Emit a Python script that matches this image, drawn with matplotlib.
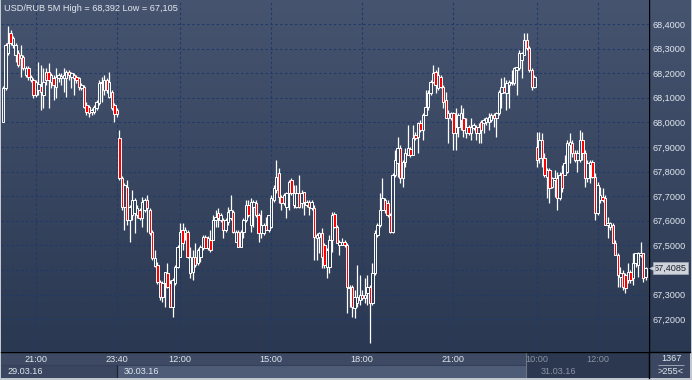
import matplotlib
matplotlib.use("Agg")
import matplotlib.pyplot as plt
import numpy as np
from matplotlib.colors import LinearSegmentedColormap
from matplotlib.transforms import blended_transform_factory
from matplotlib.patches import Rectangle
from matplotlib.ticker import FuncFormatter

plt.rcParams['font.family'] = ['Liberation Sans', 'DejaVu Sans']

# ---------------- data (USD/RUB, 5-minute bars) ----------------
day1_open = [68.002, 68.140, 68.282, 68.363, 68.315, 68.274, 68.282, 68.262, 68.266, 68.193,
             68.221, 68.172, 68.172, 68.111, 68.132, 68.148, 68.111, 68.205, 68.205, 68.164,
             68.181, 68.144, 68.181, 68.181, 68.181, 68.181, 68.205, 68.185, 68.193, 68.185,
             68.181, 68.140, 68.144, 68.071, 68.063, 68.042, 68.042, 68.059, 68.079, 68.160,
             68.132, 68.172, 68.103, 68.124, 68.071, 68.050]
day1_high = [68.148, 68.323, 68.392, 68.376, 68.351, 68.323, 68.294, 68.315, 68.274, 68.229,
             68.229, 68.193, 68.181, 68.172, 68.246, 68.233, 68.221, 68.221, 68.242, 68.201,
             68.193, 68.221, 68.201, 68.201, 68.221, 68.213, 68.213, 68.205, 68.201, 68.193,
             68.185, 68.160, 68.152, 68.083, 68.071, 68.059, 68.071, 68.091, 68.172, 68.185,
             68.193, 68.181, 68.205, 68.132, 68.079, 68.059]
day1_low = [68.002, 68.132, 68.274, 68.315, 68.302, 68.246, 68.225, 68.185, 68.213, 68.185,
            68.172, 68.164, 68.099, 68.103, 68.111, 68.050, 68.059, 68.152, 68.059, 68.140,
            68.091, 68.099, 68.164, 68.152, 68.124, 68.103, 68.172, 68.140, 68.111, 68.160,
            68.132, 68.132, 68.059, 68.030, 68.022, 68.030, 68.034, 68.050, 68.071, 68.083,
            68.111, 68.120, 68.099, 68.050, 68.002, 68.022]
day1_close = [68.140, 68.315, 68.323, 68.323, 68.343, 68.315, 68.233, 68.274, 68.221, 68.221,
              68.185, 68.185, 68.111, 68.164, 68.156, 68.124, 68.164, 68.172, 68.172, 68.193,
              68.152, 68.185, 68.193, 68.189, 68.193, 68.205, 68.193, 68.201, 68.181, 68.172,
              68.144, 68.152, 68.063, 68.042, 68.038, 68.050, 68.063, 68.083, 68.160, 68.164,
              68.172, 68.132, 68.164, 68.059, 68.034, 68.034]

day2_open = [67.937, 67.774, 67.656, 67.737, 67.603, 67.624, 67.632, 67.624, 67.644, 67.611,
             67.644, 67.685, 67.644, 67.555, 67.416, 67.420, 67.351, 67.290, 67.347, 67.388,
             67.347, 67.250, 67.347, 67.412, 67.453, 67.563, 67.550, 67.555, 67.388, 67.392,
             67.453, 67.428, 67.453, 67.489, 67.534, 67.489, 67.522, 67.522, 67.603, 67.632,
             67.603, 67.603, 67.563, 67.595, 67.611, 67.636, 67.514, 67.555, 67.494, 67.555,
             67.603, 67.664, 67.583, 67.656, 67.672, 67.624, 67.550, 67.550, 67.583, 67.563,
             67.575, 67.685, 67.725, 67.794, 67.697, 67.672, 67.656, 67.713, 67.766, 67.664,
             67.656, 67.713, 67.672, 67.717, 67.664, 67.676, 67.652, 67.652, 67.530, 67.534,
             67.550, 67.502, 67.412, 67.412, 67.522, 67.628, 67.575, 67.502, 67.502, 67.514,
             67.502, 67.327, 67.331, 67.246, 67.266, 67.278, 67.298, 67.286, 67.307, 67.331,
             67.266, 67.388, 67.542, 67.583, 67.644, 67.685, 67.672, 67.624, 67.555, 67.786,
             67.835, 67.896, 67.774, 67.839, 67.867, 67.892, 67.867, 67.949, 67.941, 67.998,
             67.969, 68.030, 68.063, 68.120, 68.164, 68.205, 68.140, 68.185, 68.144, 68.091,
             68.018, 68.018, 68.038, 67.957, 67.981, 68.010, 68.018, 67.957, 67.981, 67.957,
             67.977, 67.981, 67.957, 68.002, 67.998, 68.002, 68.002, 68.010, 68.030, 68.018,
             68.038, 68.120, 68.144, 68.120, 68.152, 68.160, 68.160, 68.213, 68.221, 68.254,
             68.274, 68.335, 68.302, 68.213, 68.144]
day2_high = [67.969, 67.782, 67.754, 67.766, 67.664, 67.725, 67.693, 67.664, 67.652, 67.697,
             67.693, 67.705, 67.652, 67.563, 67.481, 67.433, 67.359, 67.355, 67.392, 67.428,
             67.359, 67.367, 67.420, 67.502, 67.591, 67.591, 67.575, 67.563, 67.494, 67.481,
             67.510, 67.489, 67.502, 67.542, 67.542, 67.538, 67.563, 67.624, 67.644, 67.652,
             67.632, 67.611, 67.611, 67.656, 67.705, 67.644, 67.563, 67.563, 67.563, 67.611,
             67.685, 67.685, 67.693, 67.685, 67.685, 67.632, 67.644, 67.591, 67.615, 67.624,
             67.705, 67.746, 67.847, 67.815, 67.705, 67.713, 67.717, 67.766, 67.774, 67.746,
             67.746, 67.786, 67.725, 67.717, 67.685, 67.685, 67.685, 67.664, 67.550, 67.555,
             67.571, 67.510, 67.489, 67.542, 67.636, 67.636, 67.583, 67.522, 67.530, 67.522,
             67.510, 67.339, 67.339, 67.319, 67.420, 67.380, 67.319, 67.367, 67.380, 67.339,
             67.428, 67.563, 67.591, 67.713, 67.774, 67.693, 67.685, 67.632, 67.794, 67.888,
             67.941, 67.908, 67.847, 67.896, 67.989, 67.900, 67.989, 67.961, 68.002, 68.010,
             68.038, 68.132, 68.132, 68.172, 68.233, 68.213, 68.225, 68.193, 68.152, 68.124,
             68.050, 68.042, 68.042, 68.059, 68.038, 68.071, 68.059, 68.018, 67.989, 68.018,
             67.998, 67.989, 67.998, 68.010, 68.018, 68.022, 68.038, 68.038, 68.038, 68.042,
             68.132, 68.181, 68.185, 68.172, 68.172, 68.213, 68.225, 68.225, 68.294, 68.286,
             68.363, 68.363, 68.311, 68.221, 68.193]
day2_low = [67.766, 67.644, 67.563, 67.583, 67.514, 67.603, 67.550, 67.611, 67.603, 67.575,
            67.636, 67.555, 67.542, 67.441, 67.412, 67.343, 67.278, 67.270, 67.250, 67.327,
            67.250, 67.209, 67.339, 67.408, 67.453, 67.481, 67.522, 67.449, 67.367, 67.359,
            67.412, 67.420, 67.433, 67.481, 67.489, 67.481, 67.473, 67.522, 67.575, 67.575,
            67.595, 67.530, 67.555, 67.583, 67.603, 67.550, 67.514, 67.494, 67.494, 67.530,
            67.595, 67.615, 67.555, 67.575, 67.615, 67.514, 67.530, 67.542, 67.563, 67.555,
            67.571, 67.676, 67.713, 67.672, 67.644, 67.664, 67.611, 67.644, 67.705, 67.652,
            67.652, 67.652, 67.652, 67.624, 67.656, 67.624, 67.644, 67.441, 67.441, 67.469,
            67.408, 67.408, 67.367, 67.388, 67.473, 67.571, 67.510, 67.461, 67.502, 67.494,
            67.225, 67.250, 67.209, 67.205, 67.250, 67.258, 67.278, 67.266, 67.258, 67.105,
            67.258, 67.380, 67.534, 67.575, 67.644, 67.632, 67.615, 67.550, 67.550, 67.778,
            67.778, 67.754, 67.737, 67.819, 67.867, 67.859, 67.867, 67.928, 67.876, 67.961,
            67.928, 68.030, 68.050, 68.111, 68.160, 68.120, 68.132, 68.140, 68.059, 68.018,
            67.916, 68.010, 67.888, 67.888, 67.941, 67.969, 67.941, 67.937, 67.949, 67.928,
            67.969, 67.928, 67.916, 67.916, 67.957, 67.989, 67.969, 68.002, 67.981, 67.941,
            68.030, 68.059, 68.120, 68.050, 68.059, 68.152, 68.152, 68.111, 68.213, 68.181,
            68.274, 68.294, 68.205, 68.132, 68.140]
day2_close = [67.774, 67.656, 67.746, 67.603, 67.656, 67.685, 67.685, 67.652, 67.611, 67.676,
              67.685, 67.652, 67.550, 67.449, 67.449, 67.351, 67.290, 67.347, 67.392, 67.331,
              67.250, 67.359, 67.412, 67.494, 67.555, 67.510, 67.563, 67.453, 67.453, 67.453,
              67.420, 67.481, 67.494, 67.534, 67.489, 67.530, 67.481, 67.603, 67.615, 67.611,
              67.624, 67.563, 67.603, 67.636, 67.644, 67.555, 67.555, 67.494, 67.555, 67.603,
              67.664, 67.624, 67.676, 67.676, 67.624, 67.550, 67.583, 67.583, 67.563, 67.624,
              67.693, 67.733, 67.778, 67.697, 67.672, 67.705, 67.713, 67.758, 67.713, 67.713,
              67.713, 67.656, 67.713, 67.676, 67.676, 67.656, 67.676, 67.534, 67.542, 67.550,
              67.453, 67.420, 67.481, 67.522, 67.624, 67.575, 67.510, 67.514, 67.514, 67.502,
              67.331, 67.331, 67.250, 67.290, 67.290, 67.298, 67.286, 67.298, 67.331, 67.266,
              67.388, 67.550, 67.583, 67.644, 67.693, 67.644, 67.624, 67.555, 67.786, 67.847,
              67.896, 67.774, 67.839, 67.876, 67.896, 67.867, 67.937, 67.937, 67.998, 67.969,
              68.030, 68.063, 68.120, 68.164, 68.201, 68.152, 68.193, 68.144, 68.083, 68.018,
              68.038, 68.038, 67.957, 67.981, 68.030, 68.038, 67.969, 67.981, 67.957, 67.981,
              67.989, 67.957, 67.981, 67.969, 68.010, 68.018, 68.022, 68.030, 68.018, 68.038,
              68.124, 68.144, 68.124, 68.160, 68.164, 68.164, 68.221, 68.225, 68.282, 68.282,
              68.335, 68.302, 68.213, 68.144, 68.185]

day3_open = [67.900, 67.855, 67.928, 67.855, 67.778, 67.807, 67.737, 67.766, 67.774, 67.693,
             67.794, 67.786, 67.798, 67.908, 67.916, 67.876, 67.847, 67.847, 67.928, 67.876,
             67.774, 67.827, 67.839, 67.778, 67.632, 67.685, 67.697, 67.693, 67.583, 67.575,
             67.583, 67.510, 67.461, 67.372, 67.388, 67.380, 67.359, 67.392, 67.367, 67.428,
             67.420, 67.461, 67.469, 67.372]
day3_high = [67.961, 67.961, 67.957, 67.876, 67.815, 67.815, 67.778, 67.807, 67.798, 67.798,
             67.827, 67.867, 67.928, 67.957, 67.928, 67.888, 67.888, 67.969, 67.961, 67.888,
             67.847, 67.847, 67.847, 67.794, 67.758, 67.737, 67.733, 67.705, 67.615, 67.595,
             67.591, 67.522, 67.469, 67.412, 67.400, 67.388, 67.428, 67.400, 67.469, 67.469,
             67.473, 67.514, 67.469, 67.412]
day3_low = [67.819, 67.835, 67.819, 67.778, 67.693, 67.672, 67.733, 67.697, 67.644, 67.685,
            67.717, 67.786, 67.794, 67.835, 67.859, 67.839, 67.798, 67.839, 67.847, 67.737,
            67.758, 67.754, 67.774, 67.603, 67.624, 67.672, 67.676, 67.583, 67.530, 67.563,
            67.510, 67.461, 67.331, 67.331, 67.319, 67.307, 67.347, 67.347, 67.339, 67.412,
            67.372, 67.453, 67.351, 67.359]
day3_close = [67.847, 67.928, 67.855, 67.786, 67.807, 67.733, 67.774, 67.774, 67.693, 67.786,
              67.733, 67.835, 67.916, 67.920, 67.876, 67.847, 67.876, 67.928, 67.876, 67.774,
              67.835, 67.839, 67.778, 67.632, 67.746, 67.705, 67.685, 67.583, 67.591, 67.591,
              67.510, 67.461, 67.380, 67.388, 67.331, 67.327, 67.392, 67.359, 67.428, 67.469,
              67.469, 67.469, 67.367, 67.4085]

price_ticks = [67.2, 67.3, 67.4, 67.5, 67.6, 67.7, 67.8, 67.9, 68.0, 68.1, 68.2, 68.3, 68.4]
time_tick_bars = [13, 45, 70, 106, 142, 178, 211, 235]
time_tick_labels = ['21:00', '23:40', '12:00', '15:00', '18:00', '21:00', '10:00', '12:00']
day_start_bars = [0, 46, 211]
day_labels = ['29.03.16', '30.03.16', '31.03.16']
total_bars_label = '1367'

opens = np.array(day1_open + day2_open + day3_open)
highs = np.array(day1_high + day2_high + day3_high)
lows = np.array(day1_low + day2_low + day3_low)
closes = np.array(day1_close + day2_close + day3_close)
n = len(closes)
idx = np.arange(n)
last = closes[-1]

# ---------------- layout ----------------
W, H = 692, 380
BAR_PX, FIRST_BAR_PX = 2.53, 3.0
PL, PR, PB = 1, 649, 352          # plot area in pixels
XLIM = ((PL - FIRST_BAR_PX) / BAR_PX, (PR - FIRST_BAR_PX) / BAR_PX)
YLIM = (67.0667, 68.4976)
DARK_START = 206.7                 # start of shaded scroll region (bar units)

TXT = '#dfe6ef'
GRAY_TXT = '#8a93a4'
FS = 6.6


def rect(x0, y0, x1, y1):
    return [x0 / W, 1 - y1 / H, (x1 - x0) / W, (y1 - y0) / H]


def price_fmt(v):
    return f"{v:.4f}".replace('.', ',')


fig = plt.figure(figsize=(W / 100, H / 100), dpi=100)
fig.patch.set_facecolor('#c3c7cf')

ax = fig.add_axes(rect(PL, 0, PR, PB), zorder=3)
rp = fig.add_axes(rect(PR, 0, 690, PB), zorder=1)
bp = fig.add_axes(rect(PL, PB, PR, 378), zorder=2)
cp = fig.add_axes(rect(PR, PB, 690, 378), zorder=2)

bg = LinearSegmentedColormap.from_list('bg', ['#46546f', '#2b3852'])
grad = np.linspace(0, 1, 256).reshape(-1, 1)
for a in (ax, rp):
    a.imshow(grad, cmap=bg, aspect='auto', extent=[0, 1, 0, 1],
             transform=a.transAxes, zorder=0, interpolation='bilinear')

ax.set_facecolor('none')
ax.set_xlim(*XLIM)
ax.set_ylim(*YLIM)
for s in ax.spines.values():
    s.set_visible(False)

ax.set_yticks(price_ticks)
ax.set_xticks(time_tick_bars)
ax.yaxis.tick_right()
# the label hidden behind the current-price marker is not shown
ax.yaxis.set_major_formatter(FuncFormatter(
    lambda v, p: '' if abs(v - last) < 0.04 else price_fmt(v)))
ax.tick_params(axis='y', length=0, pad=2.3, labelsize=FS, labelcolor=TXT)
ax.tick_params(axis='x', length=0, labelbottom=False)
ax.grid(True, color='#1d3a6a', lw=0.8, linestyle=(0, (2.2, 2.2)), zorder=1)

# candles
up = closes >= opens
body_lo = np.minimum(opens, closes)
body_hi = np.maximum(opens, closes)
ax.vlines(idx, body_hi, highs, color='white', lw=0.9, zorder=3)
ax.vlines(idx, lows, body_lo, color='white', lw=0.9, zorder=3)
faces = ['none' if u else '#ff0000' for u in up]
ax.bar(idx, body_hi - body_lo, bottom=body_lo, width=0.95, color=faces,
       edgecolor='white', linewidth=0.7, zorder=4)

# title
title = (f"USD/RUB 5M High = {highs.max():.3f} Low = {lows.min():.3f}").replace('.', ',')
fig.text(4 / W, 1 - 8.5 / H, title, ha='left', va='center', fontsize=FS, color='#e4e9f1')

# current price marker
trans = blended_transform_factory(ax.transAxes, ax.transData)
ax.text(1 + 5 / (PR - PL), last, price_fmt(last),
        transform=trans, ha='left', va='center', fontsize=FS, color='#1c2230',
        bbox=dict(boxstyle='square,pad=0.12', fc='#cfd3da', ec='#a5abb6', lw=0.5),
        clip_on=False, zorder=6)
ax.plot([1 + 2.6 / (PR - PL)], [last], marker='<', ms=4.2, color='#cfd3da',
        mec='#a5abb6', mew=0.4, transform=trans, clip_on=False, zorder=6)

# right panel
rp.set_xticks([]); rp.set_yticks([])
for k, s in rp.spines.items():
    s.set_visible(k == 'left')
rp.spines['left'].set_color('black')
rp.spines['left'].set_linewidth(1.0)

# bottom panel
bp.set_xlim(*XLIM)
bp.set_ylim(26, 0)
bp.set_facecolor('#3e4a63')
bp.set_xticks([]); bp.set_yticks([])
for k, s in bp.spines.items():
    s.set_visible(k == 'top')
bp.spines['top'].set_color('black')
bp.spines['top'].set_linewidth(1.0)
bp.add_patch(Rectangle((XLIM[0], 13), day_start_bars[1] - 1 - XLIM[0], 13,
                       fc='#3a4660', ec='none', zorder=0))
bp.add_patch(Rectangle((day_start_bars[1] - 1, 13), DARK_START - (day_start_bars[1] - 1), 13,
                       fc='#4f5c77', ec='none', zorder=0))
bp.add_patch(Rectangle((DARK_START, 0), XLIM[1] - DARK_START, 26,
                       fc='#2c3850', ec='none', zorder=0))
bp.hlines(13, XLIM[0], DARK_START, color='#34405a', lw=0.8, zorder=1)
bp.vlines(day_start_bars[1] - 1, 13, 26, color='#1c2436', lw=0.9, zorder=1)
bp.vlines(DARK_START, 0, 26, color='#6b7384', lw=0.8, zorder=1)

for b, lab in zip(time_tick_bars, time_tick_labels):
    bp.text(b, 7.6, lab, ha='center', va='center', fontsize=FS,
            color=GRAY_TXT if b > DARK_START else TXT, zorder=3)
for b, lab in zip(day_start_bars, day_labels):
    bp.text(b + 1.6, 19.3, lab, ha='left', va='center', fontsize=FS,
            color=GRAY_TXT if b > DARK_START else TXT, zorder=3)

# corner box
cp.set_xlim(0, 41)
cp.set_ylim(26, 0)
cp.set_facecolor('#3b4760')
cp.set_xticks([]); cp.set_yticks([])
for k, s in cp.spines.items():
    s.set_visible(k in ('left', 'top'))
    s.set_color('black')
    s.set_linewidth(1.0)
cp.text(22.5, 6.6, total_bars_label, ha='center', va='center', fontsize=FS, color=TXT)
cp.hlines(13, 8.5, 35, color='#aab2c0', lw=0.6)
cp.text(21.5, 19.6, f">{n}<", ha='center', va='center', fontsize=FS, color=TXT)

fig.savefig('out.png', dpi=100, facecolor=fig.get_facecolor())
